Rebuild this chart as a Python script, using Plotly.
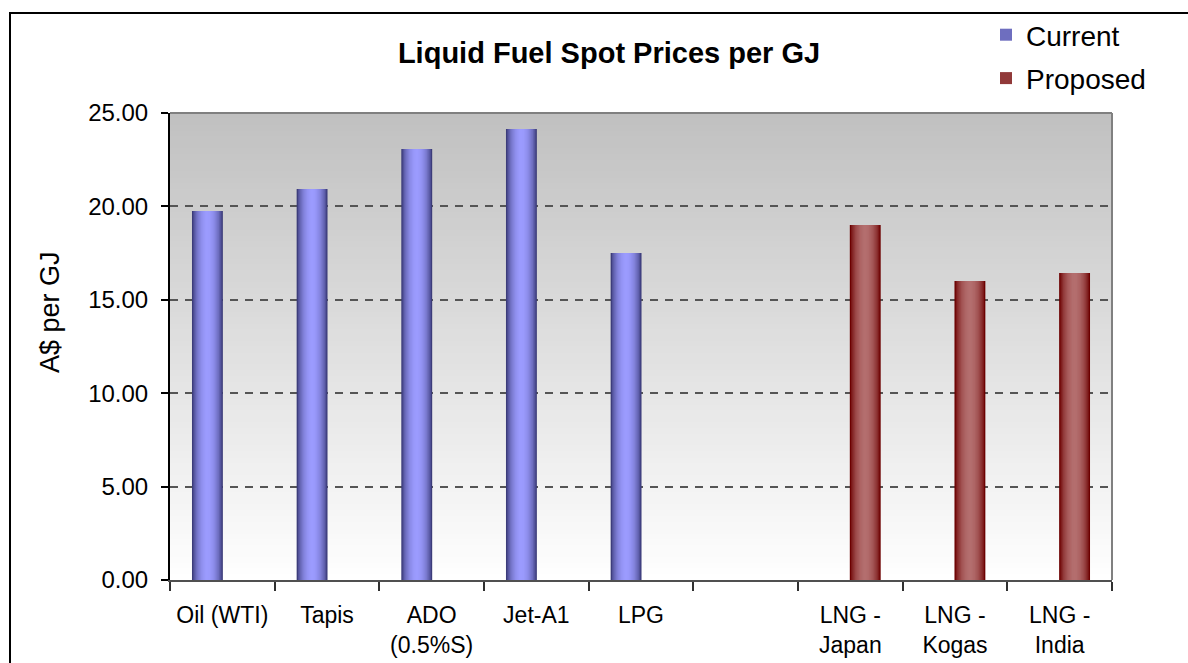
import plotly.graph_objects as go

# ---- data ----
categories = ["Oil (WTI)", "Tapis", "ADO<br>(0.5%S)", "Jet-A1", "LPG", " ",
              "LNG -<br>Japan", "LNG -<br>Kogas", "LNG -<br>India"]
current = [19.75, 20.93, 23.07, 24.14, 17.50, None, None, None, None]
proposed = [None, None, None, None, None, None, 19.00, 16.00, 16.43]
y_ticks = [0, 5, 10, 15, 20, 25]
title_text = "Liquid Fuel Spot Prices per GJ"
y_title = "A$ per GJ"

FONT = "Liberation Sans, Arial, sans-serif"


def hex2rgb(h):
    h = h.lstrip("#")
    return [int(h[i:i + 2], 16) for i in (0, 2, 4)]


def mix(c1, c2, f):
    a, b = hex2rgb(c1), hex2rgb(c2)
    return "rgb(%d,%d,%d)" % tuple(round(a[i] + (b[i] - a[i]) * f) for i in range(3))


fig = go.Figure()

N = 12
W = 0.295
series = [
    ("Current", current, "#3c3c7a", "#9c9cff", -0.29),
    ("Proposed", proposed, "#6c0000", "#b46f6f", -0.005),
]
for name, vals, edge, centre, base in series:
    for k in range(N):
        t = 1 - k / N
        f = (1 - t * t) ** 0.8
        w = W * (1 - k / N)
        off = base + (W - w) / 2
        fig.add_trace(go.Bar(
            x=categories, y=vals, width=w, offset=off,
            marker=dict(color=mix(edge, centre, f), line=dict(width=0)),
            name=name, legendgroup=name, showlegend=(k == 3),
            hoverinfo="skip",
        ))

# gradient plot background (grey top -> white bottom), overlapping bands avoid seams
shapes = []
NB = 80
for i in range(NB):
    y0 = i / NB
    f = (i + 0.5) / NB  # 0 bottom ... 1 top
    shapes.append(dict(type="rect", xref="paper", yref="paper", x0=0, x1=1, y0=y0, y1=1,
                       fillcolor=mix("#ffffff", "#c0c0c0", f), line=dict(width=0), layer="below"))
# plot frame (top & right grey)
shapes.append(dict(type="line", xref="paper", yref="paper", x0=0, x1=1, y0=1, y1=1,
                   line=dict(color="#808080", width=2), layer="above"))
shapes.append(dict(type="line", xref="paper", yref="paper", x0=1, x1=1, y0=0, y1=1,
                   line=dict(color="#808080", width=2), layer="above"))
# outer chart border
shapes.append(dict(type="rect", xref="paper", yref="paper",
                   x0=(10 - 170) / 942, x1=1.2, y0=(580 - 680) / 467, y1=(580 - 13) / 467,
                   line=dict(color="black", width=2), fillcolor="rgba(0,0,0,0)", layer="above"))

fig.update_layout(
    width=1188, height=663,
    margin=dict(l=170, r=76, t=113, b=83, autoexpand=False),
    paper_bgcolor="white", plot_bgcolor="rgba(0,0,0,0)",
    barmode="overlay",
    font=dict(family=FONT, color="black"),
    title=dict(text="<b>%s</b>" % title_text, font=dict(size=29, family=FONT),
               xref="container", x=609 / 1188, xanchor="center",
               yref="container", y=1 - 53 / 663, yanchor="middle", automargin=False),
    shapes=shapes,
    showlegend=True,
    legend=dict(x=(986 - 170) / 942, xanchor="left", xref="paper",
                yref="container", y=1 - 10 / 663, yanchor="top",
                font=dict(size=28, family=FONT), tracegroupgap=4,
                bgcolor="rgba(0,0,0,0)", itemclick=False),
    annotations=[dict(text=y_title, xref="paper", yref="paper",
                      x=(50 - 170) / 942, y=(580 - 312) / 467, textangle=-90,
                      showarrow=False, font=dict(size=27, family=FONT),
                      xanchor="center", yanchor="middle")],
)

fig.update_xaxes(
    type="category", categoryorder="array", categoryarray=categories,
    range=[-0.5, len(categories) - 0.5], automargin=False, tickangle=0,
    showline=True, linecolor="#505050", linewidth=2,
    ticks="outside", tickson="boundaries", ticklen=9, tickcolor="#303030", tickwidth=1.5,
    showgrid=False, tickfont=dict(size=23, family=FONT, color="black"),
    ticklabelstandoff=13,
)
fig.update_yaxes(
    range=[0, 25], tickvals=y_ticks, tickformat=".2f", automargin=False,
    showline=True, linecolor="black", linewidth=2,
    ticks="outside", ticklen=7, tickcolor="black", tickwidth=1.5,
    showgrid=True, gridcolor="#555555", gridwidth=1.5, griddash="8px,7px",
    zeroline=False, tickfont=dict(size=24, family=FONT, color="black"),
    ticklabelstandoff=8,
)

fig.write_html("out.html", config={"displayModeBar": False},
               post_script="document.body.style.margin='0';")
